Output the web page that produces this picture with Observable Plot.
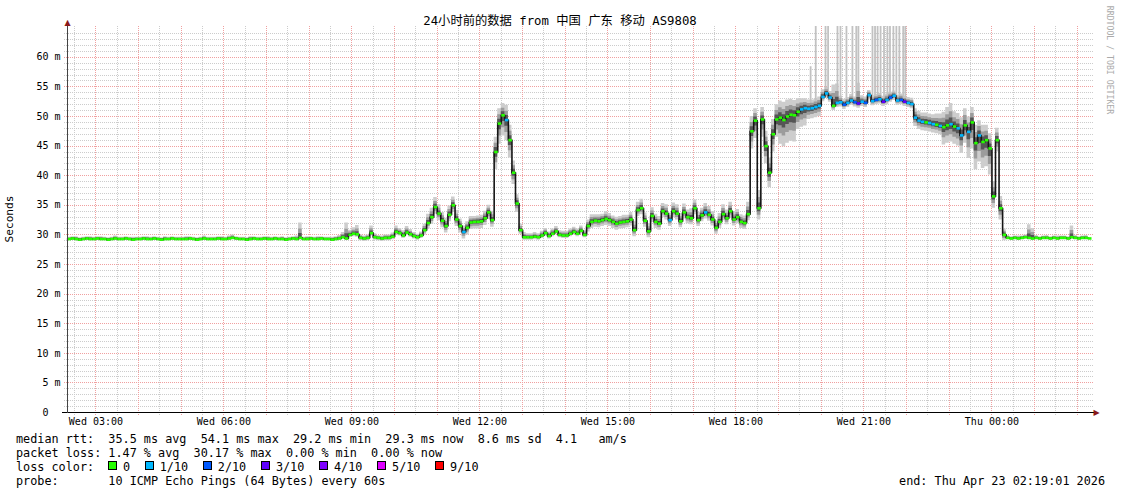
<!DOCTYPE html>
<html><head><meta charset="utf-8">
<script src="https://cdn.jsdelivr.net/npm/d3@7"></script>
<script src="https://cdn.jsdelivr.net/npm/@observablehq/plot@0.6"></script>
<style>
html,body{margin:0;padding:0;background:#fff;}
#wrap{position:relative;width:1121px;height:494px;overflow:hidden;background:#fff;font-family:"DejaVu Sans Mono",monospace;color:#000;}
#wrap svg{position:absolute;left:0;top:0;}
.t{position:absolute;white-space:pre;line-height:14px;}
.leg{font-size:11.8px;}
.sw{position:absolute;width:7px;height:7px;border:1px solid #000;}
</style></head><body><div id="wrap"></div>
<script>
// ---------- texts ----------
const title = "24小时前的数据 from 中国 广东 移动 AS9808";
const yAxisTitle = "Seconds";
const watermark = "RRDTOOL / TOBI OETIKER";
const statsLine = "median rtt:  35.5 ms avg  54.1 ms max  29.2 ms min  29.3 ms now  8.6 ms sd  4.1   am/s";
const lossLine = "packet loss: 1.47 % avg  30.17 % max  0.00 % min  0.00 % now";
const lossColorTitle = "loss color:";
const probeLine = "probe:       10 ICMP Echo Pings (64 Bytes) every 60s";
const endLine = "end: Thu Apr 23 02:19:01 2026";

// ---------- legend ----------
const lossLabels = ["0", "1/10", "2/10", "3/10", "4/10", "5/10", "9/10"];
const lossColors = ["#26ff00", "#00b8ff", "#0059ff", "#5e00ff", "#7e00ff", "#dd00ff", "#ff0000"];

// ---------- axes ----------
const yTicks = [0, 5, 10, 15, 20, 25, 30, 35, 40, 45, 50, 55, 60];
const yTickLabels = ["0\u00a0\u00a0", "5 m", "10 m", "15 m", "20 m", "25 m", "30 m", "35 m", "40 m", "45 m", "50 m", "55 m", "60 m"];
const xTicks = [3, 6, 9, 12, 15, 18, 21, 24];
const xTickLabels = ["Wed 03:00", "Wed 06:00", "Wed 09:00", "Wed 12:00", "Wed 15:00", "Wed 18:00", "Wed 21:00", "Thu 00:00"];

// ---------- data: 5-minute steps from Wed 02:20 (hours since Wed 00:00) ----------
const startHour = 2 + 20 / 60;
const stepHours = 5 / 60;
const median = [
  29.3,29.4,29.3,29.2,29.3,29.4,29.3,29.3,
  29.4,29.3,29.3,29.2,29.3,29.4,29.3,29.3,29.4,29.3,29.2,29.3,
  29.3,29.4,29.3,29.3,29.4,29.3,29.2,29.3,29.3,29.4,29.3,29.3,
  29.3,29.3,29.4,29.3,29.2,29.3,29.4,29.3,29.3,29.3,29.4,29.3,
  29.3,29.4,29.5,29.4,29.3,29.3,29.2,29.3,29.4,29.3,29.3,29.4,
  29.3,29.3,29.4,29.3,29.3,29.2,29.3,29.4,29.3,29.5,29.3,29.3,
  29.4,29.3,29.3,29.4,29.3,29.3,29.2,29.3,29.4,29.6,29.4,30.0,
  30.2,30.1,29.5,29.4,29.5,30.3,29.6,29.5,29.4,29.5,29.5,29.7,
  30.5,30.3,29.9,30.4,30.1,29.8,29.6,29.9,30.8,32.0,33.0,34.7,
  33.6,32.4,31.5,33.4,35.0,32.6,31.5,30.5,31.2,32.1,32.2,32.2,
  32.3,32.8,33.8,32.5,44.0,48.8,50.2,49.4,46.0,40.5,35.3,30.8,
  29.6,29.6,29.6,29.7,29.6,29.9,30.3,29.8,30.2,30.6,30.0,29.9,
  29.9,30.2,30.5,30.2,30.7,30.0,31.5,32.2,32.4,32.3,32.5,32.7,
  32.5,32.2,31.9,32.1,32.2,32.3,32.6,30.8,34.2,34.5,32.4,30.6,
  33.2,32.2,31.9,34.0,33.6,32.5,34.0,33.6,32.3,33.8,33.0,32.8,
  34.5,32.5,33.3,33.8,33.4,32.6,31.2,32.2,33.5,32.8,34.0,32.6,
  33.0,32.2,32.0,33.5,47.5,49.3,34.5,49.5,45.0,40.5,47.0,49.5,
  49.8,49.4,50.0,50.3,50.2,50.8,51.2,51.4,51.3,51.4,51.6,51.8,
  53.3,53.9,53.2,51.8,52.3,52.4,52.0,52.3,52.7,52.4,52.2,52.5,
  52.3,53.6,52.6,52.8,52.9,52.5,52.8,53.2,53.5,52.7,52.8,52.5,
  52.3,52.1,49.8,49.3,49.1,49.0,48.9,48.7,48.6,48.4,48.2,48.5,
  48.7,48.3,48.0,46.8,48.5,47.4,49.0,45.5,46.8,45.7,46.0,44.6,
  36.5,46.0,34.5,30.0,29.5,29.4,29.5,29.4,29.5,29.6,29.5,29.4,
  29.5,29.4,29.5,29.5,29.4,29.5,29.4,29.5,29.5,29.4,29.6,29.5,
  29.4,29.5,29.5,29.4
];
// spread of the pings above / below the median (ms)
const smokeUp = [
  0.3,0.3,0.4,0.3,0.3,0.3,0.4,0.3,
  0.3,0.4,0.3,0.3,0.3,0.4,0.3,0.3,0.3,0.3,0.4,0.3,
  0.3,0.3,0.4,0.3,0.3,0.3,0.3,0.4,0.3,0.3,0.3,0.3,
  0.3,0.4,0.3,0.3,0.3,0.3,0.4,0.3,0.3,0.3,0.3,0.4,
  0.3,0.4,0.5,0.3,0.3,0.3,0.3,0.4,0.3,0.3,0.3,0.3,
  0.4,0.3,0.3,0.3,0.4,0.3,0.3,0.3,0.5,2.5,0.3,0.4,
  0.3,0.3,0.4,0.3,0.3,0.3,0.4,0.4,0.5,0.8,2.6,0.8,
  1.0,1.5,0.5,0.4,0.5,1.2,0.6,0.4,0.4,0.5,0.5,0.6,
  1.0,0.8,0.8,1.0,0.8,0.6,0.5,0.6,1.0,1.5,1.5,1.6,
  1.5,1.4,1.3,1.5,1.4,1.5,1.2,1.0,1.0,1.0,0.9,1.0,
  1.0,1.2,1.2,1.5,2.5,2.5,2.0,2.5,2.5,2.0,1.5,1.0,
  0.8,0.6,0.6,0.7,0.6,0.7,0.8,0.7,0.8,0.8,0.7,0.7,
  0.7,0.8,0.8,0.8,0.8,0.8,1.0,1.2,1.0,1.1,1.0,1.2,
  1.1,1.0,1.1,1.0,1.1,1.0,1.2,1.4,1.3,1.5,1.3,1.3,
  1.4,1.3,1.2,1.3,1.5,1.2,1.4,1.5,1.3,1.4,1.2,1.6,
  1.4,1.3,1.2,1.5,1.4,1.3,1.2,1.4,1.6,1.4,1.5,1.3,
  1.3,1.2,1.2,2.0,2.5,2.0,3.0,2.0,2.5,2.5,2.5,2.5,
  2.8,3.0,2.8,2.6,2.5,2.2,1.8,1.6,1.5,1.4,1.4,1.5,
  1.2,1.0,1.0,3.5,3.2,1.0,0.9,0.9,1.0,0.9,3.4,1.0,
  1.0,0.8,0.9,0.9,1.0,0.9,1.0,0.9,0.8,0.9,1.0,0.9,
  0.9,1.0,1.5,1.6,1.5,1.6,1.5,1.6,1.8,2.0,2.5,3.0,
  3.5,2.5,2.5,3.0,2.8,2.5,2.5,3.0,2.5,2.8,2.5,2.5,
  2.5,2.0,2.0,1.0,0.4,0.3,0.3,0.4,0.3,0.4,2.2,1.7,
  0.4,0.3,0.3,0.4,0.3,0.3,0.4,0.3,0.3,0.3,1.9,0.4,
  0.3,0.3,0.4,0.3
];
const smokeDown = [
  0.3,0.3,0.3,0.3,0.3,0.3,0.3,0.3,
  0.3,0.3,0.3,0.3,0.3,0.3,0.3,0.3,0.3,0.3,0.3,0.3,
  0.3,0.3,0.3,0.3,0.3,0.3,0.3,0.3,0.3,0.3,0.3,0.3,
  0.3,0.3,0.3,0.3,0.3,0.3,0.3,0.3,0.3,0.3,0.3,0.3,
  0.3,0.3,0.3,0.3,0.3,0.3,0.3,0.3,0.3,0.3,0.3,0.3,
  0.3,0.3,0.3,0.3,0.3,0.3,0.3,0.3,0.3,0.3,0.3,0.3,
  0.3,0.3,0.3,0.3,0.3,0.3,0.3,0.3,0.3,0.3,0.3,0.4,
  0.5,0.5,0.5,0.5,0.5,0.5,0.5,0.5,0.5,0.5,0.5,0.5,
  0.5,0.5,0.5,0.5,0.5,0.5,0.5,0.5,0.8,1.0,1.2,1.2,
  1.2,1.2,1.2,1.2,1.2,1.2,1.2,1.2,1.2,1.2,1.2,1.2,
  1.2,1.2,1.2,1.2,3.0,3.5,3.5,3.5,3.0,2.0,1.5,0.7,
  0.5,0.5,0.5,0.5,0.5,0.5,0.5,0.5,0.5,0.5,0.5,0.5,
  0.5,0.5,0.5,0.5,0.5,0.5,1.0,1.1,1.1,1.1,1.1,1.1,
  1.1,1.1,1.1,1.1,1.1,1.1,1.1,1.1,1.1,1.1,1.1,1.1,
  1.1,1.1,1.1,1.1,1.1,1.1,1.1,1.1,1.1,1.1,1.1,1.1,
  1.1,1.1,1.1,1.1,1.1,1.1,1.1,1.1,1.1,1.1,1.1,1.1,
  1.1,1.1,1.1,1.1,3.0,3.0,2.0,3.0,3.0,2.5,3.0,3.0,
  4.5,4.5,4.5,4.5,4.5,3.0,3.0,3.0,1.8,1.8,1.8,1.8,
  0.8,0.8,0.8,0.8,0.8,0.8,0.8,0.8,0.8,0.8,0.8,0.8,
  0.8,0.8,0.8,0.8,0.8,0.8,0.8,0.8,0.8,0.8,0.8,0.8,
  0.8,0.8,1.5,1.5,1.5,1.5,1.5,1.5,1.5,1.5,3.0,3.0,
  3.0,3.0,3.0,3.0,3.0,4.5,4.5,4.5,4.5,4.5,4.5,4.5,
  2.0,2.0,2.0,1.0,0.3,0.3,0.3,0.3,0.3,0.3,0.3,0.3,
  0.3,0.3,0.3,0.3,0.3,0.3,0.3,0.3,0.3,0.3,0.3,0.3,
  0.3,0.3,0.3,0.3
];
// steps with packet loss (index into the series) and lost pings out of 10
const lossIndex = [111,123,169,179,206,207,208,209,210,211,212,213,214,216,217,218,219,220,221,222,223,224,225,226,227,228,229,230,231,232,233,234,235,236,237,238,239,240,242,243,245,248,250,251,253,256];
const lossTenths = [1,1,1,1, 1,1,1,1,1,1,1,1,1, 1,1,2,1,1,2,3,1,2,1,1,2,1,3,1,2,1,1,2,3,1,1,1,1,1, 1,1,1, 1,1,1,1,1];
// isolated slow pings (max rtt) reaching the top of the graph
const spikeHours = [19.75,19.87,20.10,20.16,20.38,20.45,20.59,20.73,20.82,20.87,21.20,21.26,21.32,21.39,21.47,21.55,21.61,21.69,21.76,21.83,21.92,21.97];
const spikeTops = [58.4,66,66,66,66,66,66,66,66,66,66,66,66,66,66,66,66,66,66,66,66,66];

// ---------- build ----------
const xStart = startHour, xEnd = startHour + 24, yMax = 65.2;
const plotHeightPx = 386; // 494 - 26 - 82
const belowAxis = -3 * yMax / plotHeightPx; // 3 px below the x axis, on a pixel edge
function binOf(t) { return t <= 4 ? t : (t < 9 ? 5 : 6); }
const rows = median.map((m, i) => {
  const t = startHour + i * stepHours, up = smokeUp[i], dn = smokeDown[i];
  return {t, t2: t + stepHours, m, lo: m - dn, hi: m + up,
    lo2: m - dn * 0.6, hi2: m + up * 0.6, lo3: m - dn * 0.3, hi3: m + up * 0.3, color: lossColors[0]};
});
lossIndex.forEach((idx, k) => { rows[idx].color = lossColors[binOf(lossTenths[k])]; });
const spikes = spikeHours.map((h, k) => {
  const i = Math.floor((h - startHour) / stepHours);
  return {t: h, base: median[i], top: Math.min(spikeTops[k], yMax)};
});
const minorY = d3.range(1, 65).filter(v => v % 5 !== 0);
const majorY = d3.range(5, 65, 5);
const minorX = d3.range(2.5, xEnd, 1);
const majorX = d3.range(3, xEnd, 1);
const gridMinor = "#cccccc", gridMajor = "#f0a0a0";
const crisp = {shapeRendering: "crispEdges", strokeDasharray: "1,1"};

const chart = Plot.plot({
  width: 1121, height: 494,
  marginLeft: 67, marginRight: 30, marginTop: 26, marginBottom: 82,
  style: {fontFamily: "'DejaVu Sans Mono', monospace", fontSize: "10px", background: "transparent", color: "#000"},
  x: {domain: [xStart, xEnd], ticks: xTicks, tickFormat: d => xTickLabels[xTicks.indexOf(d)], tickSize: 0, tickPadding: 5, label: null},
  y: {domain: [0, yMax], ticks: yTicks, tickFormat: d => yTickLabels[yTicks.indexOf(d)], tickSize: 0, tickPadding: 7, label: null},
  color: {type: "identity"},
  marks: [
    Plot.ruleY(minorY, {x1: xStart - 0.08, x2: xEnd + 0.04, stroke: gridMinor, ...crisp}),
    Plot.ruleX(minorX, {y1: belowAxis, y2: yMax, stroke: gridMinor, ...crisp}),
    Plot.ruleY(majorY, {x1: xStart - 0.08, x2: xEnd + 0.04, stroke: gridMajor, ...crisp}),
    Plot.ruleX(majorX, {y1: belowAxis, y2: yMax, stroke: gridMajor, ...crisp}),
    Plot.areaY(rows, {x: "t", y1: "lo", y2: "hi", curve: "step-after", fill: "#cdcdcd"}),
    Plot.ruleX(spikes, {x: "t", y1: "base", y2: "top", stroke: "#c2c2c2", strokeWidth: 1.8}),
    Plot.areaY(rows, {x: "t", y1: "lo2", y2: "hi2", curve: "step-after", fill: "#9c9c9c"}),
    Plot.areaY(rows, {x: "t", y1: "lo3", y2: "hi3", curve: "step-after", fill: "#555555"}),
    Plot.line(rows, {x: "t", y: "m", curve: "step-after", stroke: "#151515", strokeWidth: 1.6}),
    Plot.link(rows, {x1: "t", x2: "t2", y1: "m", y2: "m", stroke: "color", strokeWidth: 2.6}),
    Plot.ruleY([0], {x1: xStart - 0.12, x2: xEnd + 0.06, stroke: "#000", shapeRendering: "crispEdges"}),
    Plot.ruleX([xStart], {y1: -0.25, y2: yMax + 0.3, stroke: "#444", shapeRendering: "crispEdges"}),
    Plot.text([0], {x: xEnd + 0.12, y: 0, text: () => "\u25B6", fill: "#8b1a1a", fontSize: 8, fontFamily: "DejaVu Sans"}),
    Plot.text([0], {x: xStart, y: yMax + 0.75, text: () => "\u25B2", fill: "#8b1a1a", fontSize: 8, fontFamily: "DejaVu Sans"})
  ]
});

const wrap = document.getElementById("wrap");
wrap.appendChild(chart);

function addText(txt, css, cls) {
  const d = document.createElement("div");
  d.className = "t " + (cls || "");
  d.textContent = txt;
  d.style.cssText += css;
  wrap.appendChild(d);
  return d;
}
addText(title, "left:0;width:1120px;text-align:center;top:13px;font-size:12.3px;line-height:16px;font-family:'DejaVu Sans Mono','Noto Sans CJK SC',monospace;");
addText(yAxisTitle, "left:10px;top:219px;font-size:11.2px;transform:translate(-50%,-50%) rotate(-90deg);");
addText(watermark, "left:1110px;top:60px;font-size:8.2px;color:#aaaaaa;transform:translate(-50%,-50%) rotate(90deg);");
addText(statsLine, "left:16px;top:432px;", "leg");
addText(lossLine, "left:16px;top:446px;", "leg");
addText(lossColorTitle, "left:16px;top:460px;", "leg");
addText(probeLine, "left:16px;top:474px;", "leg");
addText(endLine, "right:16px;top:474px;", "leg");
let cx = 108;
lossLabels.forEach((lab, k) => {
  const sw = document.createElement("div");
  sw.className = "sw";
  sw.style.left = cx + "px";
  sw.style.top = "461px";
  sw.style.background = lossColors[k];
  wrap.appendChild(sw);
  addText(lab, "left:" + (cx + 15) + "px;top:460px;", "leg");
  cx += 29.6 + lab.length * 7.12;
});
</script>
</body></html>
